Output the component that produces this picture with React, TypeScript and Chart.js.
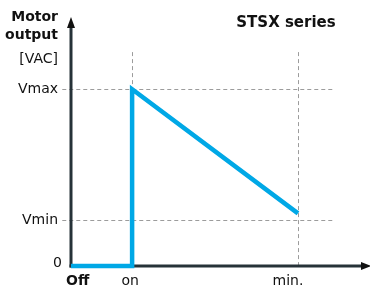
import React, { useEffect, useRef } from 'react';
import { Chart, registerables } from 'chart.js';

Chart.register(...registerables);

const xLabels = ['Off', 'on', 'min.'];
const xLabelValues = [0, 2.1, 7.8];
const yLabels = ['0', 'Vmin', 'Vmax'];
const yLabelValues = [0, 19.2, 74];
const seriesX = [0, 2.1, 2.1, 7.8];
const seriesY = [0, 0, 74, 22];
const X_MAX = 10;
const Y_MAX = 100;
const GUIDE_TOP = 89.5;
const GUIDE_LEFT = -0.3;
const GUIDE_RIGHT = 9.0;
const yTitle = ['Motor', 'output'];
const yUnit = '[VAC]';
const seriesTitle = 'STSX series';

const FONT = '"DejaVu Sans", Verdana, sans-serif';

const overlay = {
  id: 'overlay',
  beforeDatasetsDraw(chart: any) {
    const { ctx, scales } = chart;
    const x = scales.x;
    const y = scales.y;
    const x0 = x.getPixelForValue(0);
    const y0 = y.getPixelForValue(0);
    ctx.save();
    ctx.strokeStyle = '#9c9c9c';
    ctx.lineWidth = 1;
    ctx.setLineDash([4, 3]);
    for (const v of [yLabelValues[1], yLabelValues[2]]) {
      const py = Math.round(y.getPixelForValue(v)) + 0.5;
      ctx.beginPath();
      ctx.moveTo(x.getPixelForValue(GUIDE_LEFT), py);
      ctx.lineTo(x.getPixelForValue(GUIDE_RIGHT), py);
      ctx.stroke();
    }
    const onX = Math.round(x.getPixelForValue(xLabelValues[1])) + 0.5;
    ctx.beginPath();
    ctx.moveTo(onX, y.getPixelForValue(GUIDE_TOP));
    ctx.lineTo(onX, y.getPixelForValue(yLabelValues[2]));
    ctx.stroke();
    const minX = Math.round(x.getPixelForValue(xLabelValues[2])) + 0.5;
    ctx.beginPath();
    ctx.moveTo(minX, y.getPixelForValue(GUIDE_TOP));
    ctx.lineTo(minX, y0);
    ctx.stroke();
    ctx.setLineDash([]);

    // axes
    ctx.strokeStyle = '#263238';
    ctx.fillStyle = '#111';
    ctx.lineWidth = 3;
    const yTop = y.getPixelForValue(Y_MAX);
    const xEnd = x.getPixelForValue(X_MAX);
    ctx.beginPath();
    ctx.moveTo(x0, y0 + 1.5);
    ctx.lineTo(x0, yTop);
    ctx.stroke();
    ctx.beginPath();
    ctx.moveTo(x0 - 1.5, y0);
    ctx.lineTo(xEnd, y0);
    ctx.stroke();
    // arrows
    ctx.beginPath();
    ctx.moveTo(x0, yTop - 10);
    ctx.lineTo(x0 - 4, yTop + 1);
    ctx.lineTo(x0 + 4, yTop + 1);
    ctx.closePath();
    ctx.fill();
    ctx.beginPath();
    ctx.moveTo(xEnd + 9, y0);
    ctx.lineTo(xEnd - 1, y0 - 4);
    ctx.lineTo(xEnd - 1, y0 + 4);
    ctx.closePath();
    ctx.fill();
    ctx.restore();
  },
  afterDraw(chart: any) {
    const { ctx, scales } = chart;
    const x = scales.x;
    const y = scales.y;
    ctx.save();
    ctx.fillStyle = '#111';
    ctx.textBaseline = 'middle';
    // y title
    ctx.font = `bold 14px ${FONT}`;
    ctx.textAlign = 'right';
    ctx.fillText(yTitle[0], 58, 17);
    ctx.fillText(yTitle[1], 58, 35);
    ctx.font = `14px ${FONT}`;
    ctx.fillText(yUnit, 58, 59);
    // y labels
    yLabels.forEach((lab, i) => {
      const py = y.getPixelForValue(yLabelValues[i]);
      const px = i === 0 ? 62 : 58;
      ctx.fillText(lab, px, i === 0 ? py - 3 : py);
    });
    // x labels
    xLabels.forEach((lab, i) => {
      const px = x.getPixelForValue(xLabelValues[i]);
      if (i === 0) {
        ctx.font = `bold 14px ${FONT}`;
        ctx.textAlign = 'left';
        ctx.fillText(lab, px - 5, 281);
      } else {
        ctx.font = `14px ${FONT}`;
        ctx.textAlign = 'center';
        ctx.fillText(lab, i === 2 ? px - 10 : px - 2, 281);
      }
    });
    // series title
    ctx.font = `bold 15px ${FONT}`;
    ctx.textAlign = 'center';
    ctx.fillText(seriesTitle, 286, 23);
    ctx.restore();
  },
};

export default function App() {
  const ref = useRef<HTMLCanvasElement>(null);
  useEffect(() => {
    document.body.style.margin = '0';
    const chart = new Chart(ref.current as HTMLCanvasElement, {
      type: 'line',
      data: {
        datasets: [
          {
            data: seriesX.map((v, i) => ({ x: v, y: seriesY[i] })),
            borderColor: '#00a8e6',
            borderWidth: 4.5,
            pointRadius: 0,
            borderCapStyle: 'butt',
            borderJoinStyle: 'miter',
            tension: 0,
            clip: false as any,
            fill: false,
          },
        ],
      },
      options: {
        animation: false,
        responsive: false,
        devicePixelRatio: 1,
        layout: { padding: { left: 71, right: 8, top: 27, bottom: 22 } },
        plugins: { legend: { display: false }, tooltip: { enabled: false } },
        scales: {
          x: { type: 'linear', min: 0, max: X_MAX, display: false },
          y: { type: 'linear', min: 0, max: Y_MAX, display: false },
        },
      },
      plugins: [overlay],
    } as any);
    return () => chart.destroy();
  }, []);
  return (
    <div style={{ position: 'fixed', left: 0, top: 0, width: 370, height: 288, background: '#fff' }}>
      <canvas ref={ref} width={370} height={288} style={{ width: 370, height: 288 }} />
    </div>
  );
}
